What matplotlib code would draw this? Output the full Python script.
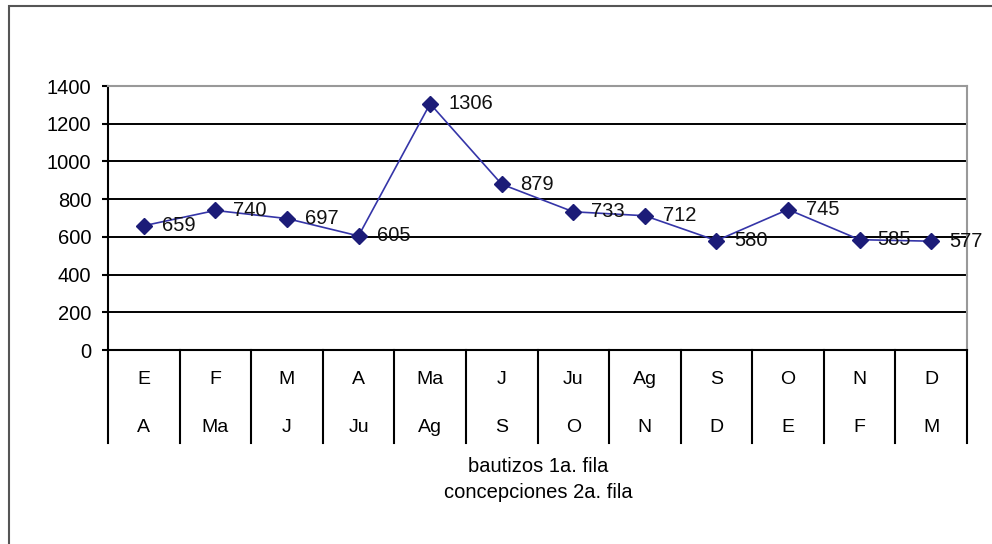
import matplotlib.pyplot as plt
from matplotlib.patches import Rectangle

plt.rcParams['font.family'] = ['Liberation Sans', 'DejaVu Sans']

# bautizos por mes
valores = [659, 740, 697, 605, 1306, 879, 733, 712, 580, 745, 585, 577]
fila1 = ['E', 'F', 'M', 'A', 'Ma', 'J', 'Ju', 'Ag', 'S', 'O', 'N', 'D']
fila2 = ['A', 'Ma', 'J', 'Ju', 'Ag', 'S', 'O', 'N', 'D', 'E', 'F', 'M']
yticks = [0, 200, 400, 600, 800, 1000, 1200, 1400]

W, H = 992, 544
fig = plt.figure(figsize=(W / 100, H / 100), dpi=100)
ax = fig.add_axes([108 / W, (H - 350) / H, (967 - 108) / W, (350 - 86) / H])

x = list(range(len(valores)))
ax.plot(x, valores, color='#3535a8', lw=1.2, marker='D', markersize=8,
        markerfacecolor='#1c1c78', markeredgecolor='#1c1c78', zorder=3)
for xi, v in zip(x, valores):
    ax.annotate(str(v), (xi, v), xytext=(13, 0), textcoords='offset points',
                ha='left', va='center', fontsize=14.5, color='#111111',
                annotation_clip=False, zorder=4)

ax.set_xlim(-0.5, len(valores) - 0.5)
ax.set_ylim(0, 1400)
ax.set_yticks(yticks)
ax.set_yticklabels([str(t) for t in yticks], fontsize=14.5)
ax.tick_params(axis='y', length=4, width=1.5, pad=8, color='black')
ax.set_xticks([])
for y in yticks[1:-1]:
    ax.axhline(y, color='black', lw=1.4, zorder=1)

ax.spines['left'].set_linewidth(1.5)
ax.spines['bottom'].set_linewidth(1.5)
ax.spines['top'].set_color('#999999')
ax.spines['top'].set_linewidth(1.5)
ax.spines['right'].set_color('#999999')
ax.spines['right'].set_linewidth(1.5)

# eje de categorias en dos filas
tr = ax.get_xaxis_transform()
bajo = -(443 - 350) / (350 - 86)
for i in range(len(valores) + 1):
    ax.plot([i - 0.5, i - 0.5], [0, bajo], color='black', lw=1.5,
            transform=tr, clip_on=False)
for i in range(len(valores)):
    ax.text(i, -(380 - 350) / (350 - 86), fila1[i], transform=tr,
            ha='center', va='center', fontsize=14)
    ax.text(i, -(427 - 350) / (350 - 86), fila2[i], transform=tr,
            ha='center', va='center', fontsize=14)

fig.text(538 / W, 1 - 467 / H, 'bautizos 1a. fila', ha='center', va='center', fontsize=14.5)
fig.text(538 / W, 1 - 493 / H, 'concepciones 2a. fila', ha='center', va='center', fontsize=14.5)

# marco exterior
fig.patches.append(Rectangle((9 / W, -0.1), 1.2, 1.1 - 6 / H, transform=fig.transFigure,
                             fill=False, edgecolor='#555555', lw=1.5))

fig.savefig('out.png', dpi=100)
